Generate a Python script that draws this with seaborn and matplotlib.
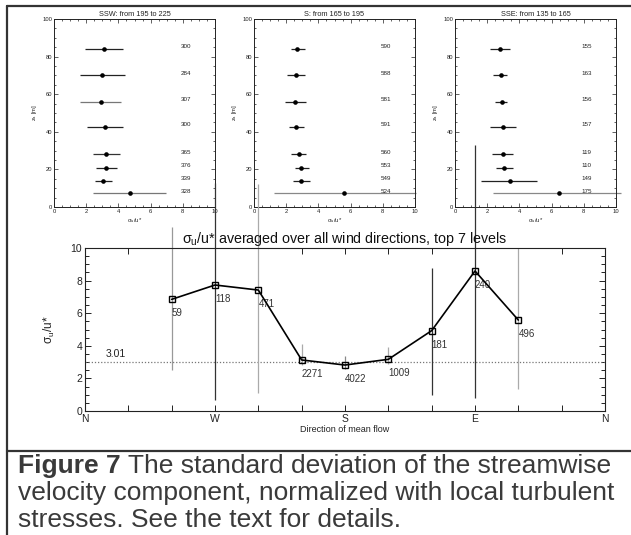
import matplotlib
matplotlib.use("Agg")
import matplotlib.pyplot as plt
import seaborn as sns
import pandas as pd
from matplotlib.lines import Line2D
from matplotlib.ticker import MultipleLocator

sns.set_theme(style="white")
plt.rcParams['font.family'] = ['Liberation Sans', 'DejaVu Sans']
plt.rcParams['mathtext.fontset'] = 'custom'
plt.rcParams['mathtext.rm'] = 'Liberation Sans'
plt.rcParams['mathtext.it'] = 'Liberation Sans:italic'
plt.rcParams['mathtext.default'] = 'regular'

# ---------------- data ----------------
heights = [84, 70, 56, 42.5, 28, 21, 14, 7.3]
panel_titles = ["SSW: from 195 to 225", "S: from 165 to 195", "SSE: from 135 to 165"]

ssw_mean = [3.11, 2.99, 2.90, 3.16, 3.24, 3.26, 3.05, 4.70]
ssw_lo = [1.95, 1.59, 1.63, 2.05, 2.42, 2.60, 2.56, 2.42]
ssw_hi = [4.28, 4.39, 4.17, 4.28, 4.11, 3.90, 3.60, 6.97]
ssw_n = [300, 284, 307, 300, 365, 376, 339, 328]

s_mean = [2.66, 2.58, 2.56, 2.62, 2.78, 2.92, 2.92, 5.62]
s_lo = [2.29, 2.02, 1.92, 2.19, 2.29, 2.52, 2.45, 1.23]
s_hi = [3.15, 3.15, 3.21, 3.11, 3.25, 3.41, 3.46, 10.06]
s_n = [590, 588, 581, 591, 560, 553, 549, 524]

sse_mean = [2.82, 2.86, 2.90, 2.96, 2.98, 3.04, 3.40, 6.45]
sse_lo = [2.20, 2.39, 2.51, 2.20, 2.30, 2.53, 1.63, 2.35]
sse_hi = [3.40, 3.22, 3.22, 3.78, 3.63, 3.59, 5.10, 10.30]
sse_n = [155, 163, 156, 157, 119, 110, 149, 175]

directions = [60, 90, 120, 150, 180, 210, 240, 270, 300]
sigma_mean = [6.85, 7.73, 7.42, 3.13, 2.82, 3.17, 4.93, 8.59, 5.58]
sigma_lo = [2.5, 0.67, 1.1, 2.85, 2.58, 2.9, 1.0, 0.8, 1.35]
sigma_hi = [11.3, 14.0, 13.9, 4.1, 3.37, 3.9, 8.8, 16.3, 10.0]
sigma_n = [59, 118, 471, 2271, 4022, 1009, 181, 240, 496]
overall_mean = 3.01
dir_ticks = [0, 90, 180, 270, 360]
dir_labels = ["N", "W", "S", "E", "N"]

caption_bold = "Figure 7"
caption_lines = [" The standard deviation of the streamwise",
                 "velocity component, normalized with local turbulent",
                 "stresses. See the text for details."]

# ---------------- figure ----------------
W, H = 631, 535
fig = plt.figure(figsize=(W / 100, H / 100), dpi=100)
fig.patch.set_facecolor("white")

def fx(px):
    return px / W

def fy(py):
    return 1 - py / H

panels = [
    (54, ssw_mean, ssw_lo, ssw_hi, ssw_n, ["#222", "#222", "#777", "#222", "#333", "#222", "#222", "#777"]),
    (254, s_mean, s_lo, s_hi, s_n, ["#222"] * 7 + ["#888"]),
    (455, sse_mean, sse_lo, sse_hi, sse_n, ["#222"] * 7 + ["#888"]),
]
pw, ptop, pbot = 161, 19, 207

for i, (left, m, lo, hi, n, cols) in enumerate(panels):
    ax = fig.add_axes([fx(left), fy(pbot), fx(pw), (pbot - ptop) / H])
    ax.set_facecolor("white")
    for h, a, b, c in zip(heights, lo, hi, cols):
        ax.hlines(h, a, b, color=c, lw=0.9, clip_on=False, zorder=2)
    df = pd.DataFrame({"x": m, "y": heights})
    sns.scatterplot(data=df, x="x", y="y", ax=ax, color="black", s=11,
                    edgecolor="black", linewidth=0, zorder=3, legend=False)
    for h, v in zip(heights, n):
        ax.text(7.85, h + 1.2, str(v), fontsize=4.5, color="#222",
                ha="left", va="center")
    ax.set_xlim(0, 10)
    ax.set_ylim(0, 100)
    ax.xaxis.set_major_locator(MultipleLocator(2))
    ax.xaxis.set_minor_locator(MultipleLocator(0.5))
    ax.yaxis.set_major_locator(MultipleLocator(20))
    ax.yaxis.set_minor_locator(MultipleLocator(5))
    ax.tick_params(which="both", direction="in", top=True, right=True,
                   bottom=True, left=True, labelsize=4.2, pad=1.5,
                   colors="#222", width=0.5)
    ax.tick_params(which="major", length=3)
    ax.tick_params(which="minor", length=1.6)
    for sp in ax.spines.values():
        sp.set_color("#222")
        sp.set_linewidth(0.7)
    ax.set_title(panel_titles[i], fontsize=5.3, pad=2, color="#222")
    ax.set_xlabel(r"$\sigma_u$/u*", fontsize=4.2, labelpad=1.5, color="#222")
    ax.set_ylabel(r"z$_a$ [m]", fontsize=4.2, labelpad=2, color="#222")

# ---------------- bottom panel ----------------
bl, br, btop, bbot = 85, 605, 248, 411
bx = fig.add_axes([fx(bl), fy(bbot), fx(br - bl), (bbot - btop) / H])
bx.set_facecolor("none")
bar_cols = ["#999", "#333", "#aaa", "#aaa", "#888", "#aaa", "#333", "#333", "#aaa"]
for d, a, b, c in zip(directions, sigma_lo, sigma_hi, bar_cols):
    bx.vlines(d, a, b, color=c, lw=0.9, clip_on=False, zorder=2)
bx.axhline(overall_mean, color="#777", lw=0.9, ls=(0, (1, 1.5)), zorder=1)
bx.text(14, overall_mean + 0.2, f"{overall_mean:.2f}", fontsize=7.5,
        ha="left", va="bottom", color="#222")
dfb = pd.DataFrame({"dir": directions, "val": sigma_mean})
sns.lineplot(data=dfb, x="dir", y="val", ax=bx, color="black", lw=1.2,
             marker="s", markersize=5, markerfacecolor="none",
             markeredgecolor="black", markeredgewidth=1.0, zorder=4)
for d, v, n in zip(directions, sigma_mean, sigma_n):
    bx.annotate(str(n), (d, v), xytext=(0, -14), textcoords="offset pixels",
                fontsize=7, ha="left", va="center", color="#333")
bx.set_xlim(0, 360)
bx.set_ylim(0, 10)
bx.set_xticks(list(range(0, 361, 30)))
bx.set_xticklabels([dir_labels[dir_ticks.index(t)] if t in dir_ticks else ""
                    for t in range(0, 361, 30)])
bx.yaxis.set_major_locator(MultipleLocator(2))
bx.yaxis.set_minor_locator(MultipleLocator(0.5))
bx.tick_params(which="both", direction="in", top=True, right=True,
               bottom=True, left=True, labelsize=7.5, pad=2,
               colors="#222", width=0.7)
bx.tick_params(which="major", length=4.5)
bx.tick_params(which="minor", length=3)
for sp in bx.spines.values():
    sp.set_color("#222")
    sp.set_linewidth(0.8)
bx.set_title(r"$\sigma_u$/u* averaged over all wind directions, top 7 levels",
             fontsize=10.3, pad=3, color="#111")
bx.set_xlabel("Direction of mean flow", fontsize=6.5, labelpad=1, color="#222")
bx.set_ylabel(r"$\sigma_u$/u*", fontsize=8.5, labelpad=10, color="#222")

# ---------------- frame lines ----------------
fig.add_artist(Line2D([fx(7), 1], [fy(6), fy(6)], transform=fig.transFigure,
                      color="#333", lw=1.6))
fig.add_artist(Line2D([fx(7), fx(7)], [fy(6), 0], transform=fig.transFigure,
                      color="#333", lw=1.6))
fig.add_artist(Line2D([fx(7), 1], [fy(451), fy(451)], transform=fig.transFigure,
                      color="#333", lw=1.6))

# ---------------- caption ----------------
cap_y = [466, 493, 520]
cap_fs = 19
t1 = fig.text(fx(18), fy(cap_y[0]), caption_bold, fontsize=cap_fs,
              weight="bold", color="#3a3a3a", ha="left", va="center")
fig.canvas.draw()
bb = t1.get_window_extent()
fig.text(bb.x1 / W, fy(cap_y[0]), caption_lines[0], fontsize=cap_fs,
         color="#3a3a3a", ha="left", va="center")
for y, line in zip(cap_y[1:], caption_lines[1:]):
    fig.text(fx(18), fy(y), line, fontsize=cap_fs, color="#3a3a3a",
             ha="left", va="center")

fig.savefig("out.png", dpi=100, facecolor="white")
